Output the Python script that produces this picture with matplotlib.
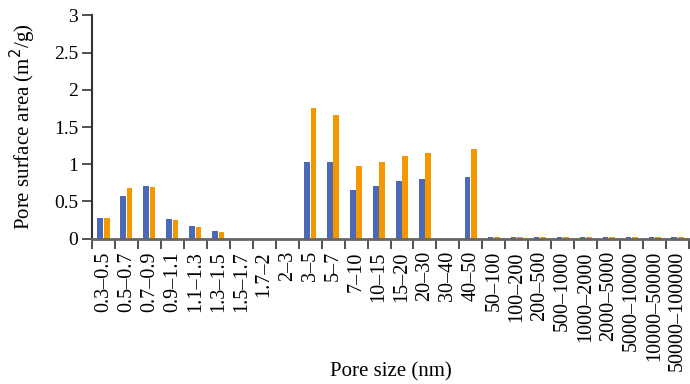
import matplotlib
matplotlib.use("Agg")
import matplotlib.pyplot as plt
import numpy as np

categories = ["0.3–0.5", "0.5–0.7", "0.7–0.9", "0.9–1.1", "1.1–1.3", "1.3–1.5",
              "1.5–1.7", "1.7–2", "2–3", "3–5", "5–7", "7–10", "10–15", "15–20",
              "20–30", "30–40", "40–50", "50–100", "100–200", "200–500",
              "500–1000", "1000–2000", "2000–5000", "5000–10000",
              "10000–50000", "50000–100000"]
series_a = [0.28, 0.57, 0.71, 0.265, 0.17, 0.10, 0, 0, 0, 1.03, 1.03, 0.655,
            0.71, 0.775, 0.80, 0, 0.83, 0.02, 0.02, 0.02, 0.02, 0.02, 0.02,
            0.02, 0.02, 0.02]
series_b = [0.28, 0.68, 0.695, 0.25, 0.157, 0.09, 0, 0, 0, 1.755, 1.66, 0.975,
            1.03, 1.11, 1.15, 0, 1.20, 0.02, 0.02, 0.02, 0.02, 0.02, 0.02,
            0.02, 0.02, 0.02]
yticks = [0, 0.5, 1, 1.5, 2, 2.5, 3]
ytick_labels = ["0", "0.5", "1", "1.5", "2", "2.5", "3"]

plt.rcParams['font.family'] = ['Liberation Serif', 'DejaVu Serif']

fig = plt.figure(figsize=(6.9, 3.84), dpi=100)
ax = fig.add_axes([92/690, 1-238.7/384, 597/690, (238.7-15.3)/384])

x = np.arange(len(categories))
w = 0.245
ax.bar(x - 0.14, series_a, width=w, color='#4B69B4', zorder=2)
ax.bar(x + 0.14, series_b, width=w, color='#F59800', zorder=2)

ax.set_xlim(-0.5, len(categories) - 0.5)
ax.set_ylim(0, 3)
ax.set_yticks(yticks)
ax.set_yticklabels(ytick_labels, fontsize=14)
ax.set_xticks(x)
ax.set_xticklabels(categories, rotation=90, fontsize=14.5)
ax.tick_params(axis='x', which='major', length=0, pad=9)
ax.set_xticks(np.arange(-0.5, len(categories) + 0.5, 1), minor=True)
ax.tick_params(axis='x', which='minor', length=7, width=1.2, color='#333333')
ax.tick_params(axis='y', length=7, width=1.2, color='#333333', pad=3)

for s in ['top', 'right']:
    ax.spines[s].set_visible(False)
ax.spines['left'].set_color('#333333')
ax.spines['left'].set_linewidth(1.5)
ax.spines['bottom'].set_color('#666666')
ax.spines['bottom'].set_linewidth(2)
ax.spines['bottom'].set_zorder(3)

ax.set_xlabel("Pore size (nm)", fontsize=15)
ax.xaxis.set_label_coords(0.5, -0.555)
ax.set_ylabel("Pore surface area (m$^2$/g)", fontsize=15)
ax.yaxis.set_label_coords(-0.09, 0.5)

fig.savefig("out.png", dpi=100)
